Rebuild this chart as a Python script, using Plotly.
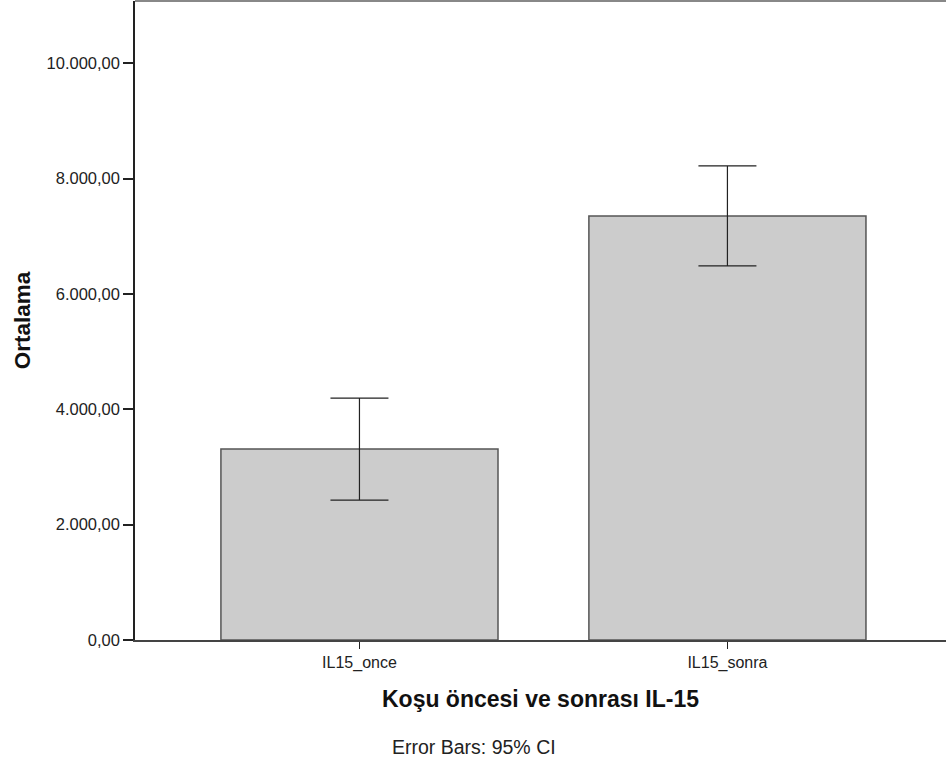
import plotly.graph_objects as go

categories = ["IL15_once", "IL15_sonra"]
means = [3310, 7354]
ci_half = [884, 866]
y_tick_vals = [0, 2000, 4000, 6000, 8000, 10000]
y_tick_text = ["0,00", "2.000,00", "4.000,00", "6.000,00", "8.000,00", "10.000,00"]

FONT = "Liberation Sans, Arial, sans-serif"

fig = go.Figure()
fig.add_trace(go.Bar(
    x=[0, 1], y=means, width=0.753,
    marker=dict(color="#cccccc", line=dict(color="#555555", width=1.5)),
    error_y=dict(type="data", array=ci_half, visible=True,
                 color="#222222", thickness=1.2, width=29),
    hoverinfo="skip",
))

fig.update_layout(
    width=946, height=763,
    margin=dict(l=135, r=0, t=1, b=123),
    paper_bgcolor="white", plot_bgcolor="white",
    showlegend=False,
    font=dict(family=FONT, color="#222222", size=16),
    xaxis=dict(
        range=[-0.61, 1.594], tickvals=[0, 1], ticktext=categories,
        showline=True, linecolor="#444444", linewidth=2,
        ticks="outside", ticklen=7, tickcolor="#222222", tickwidth=1,
        showgrid=False, zeroline=False,
        tickfont=dict(family=FONT, size=16, color="#222222"),
        title=dict(text="<b>Koşu öncesi ve sonrası IL-15</b>",
                   font=dict(family=FONT, size=23, color="#111111"),
                   standoff=20),
    ),
    yaxis=dict(
        range=[0, 11080], tickvals=y_tick_vals, ticktext=y_tick_text,
        showline=True, linecolor="#222222", linewidth=1.5,
        ticks="outside", ticklen=10, tickcolor="#222222", tickwidth=2,
        showgrid=False, zeroline=False,
        tickfont=dict(family=FONT, size=16.5, color="#222222"),
        title=dict(text="<b>Ortalama</b>",
                   font=dict(family=FONT, size=22.5, color="#111111"),
                   standoff=10),
    ),
    shapes=[dict(type="line", xref="paper", yref="paper", x0=0, x1=1, y0=1, y1=1,
                 line=dict(color="#888888", width=2))],
    annotations=[dict(text="Error Bars: 95% CI", xref="paper", yref="paper",
                      x=(390 - 135) / 811, y=-(747 - 640) / 639,
                      xanchor="left", yanchor="middle", showarrow=False,
                      font=dict(family=FONT, size=19.5, color="#222222"))],
)

fig.write_html("out.html", config={"displayModeBar": False},
               post_script="document.body.style.margin='0px';")
